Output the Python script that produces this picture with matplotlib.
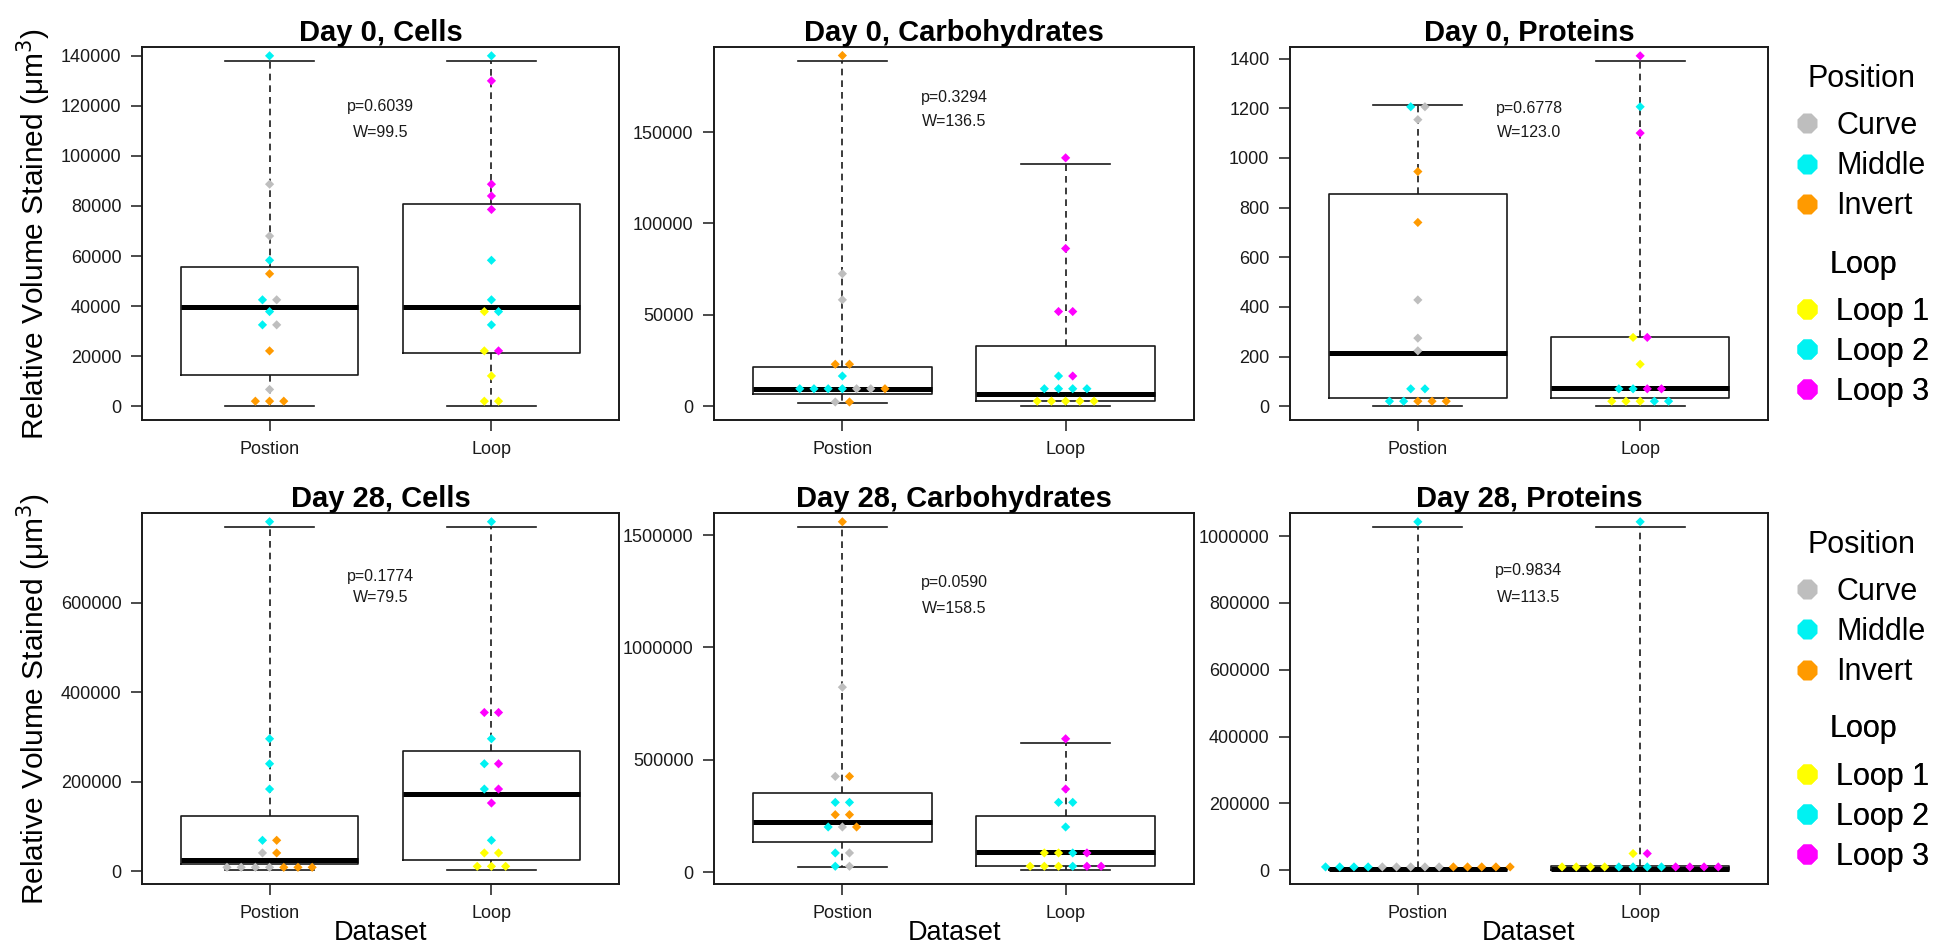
from itertools import groupby

import matplotlib.pyplot as plt
from matplotlib.lines import Line2D
from matplotlib.ticker import FormatStrFormatter

plt.rcParams["font.family"] = ["Liberation Sans", "DejaVu Sans"]

GROUPS = ["Postion", "Loop"]
POSITION_CATS = ["Curve", "Middle", "Invert"]
LOOP_CATS = ["Loop 1", "Loop 2", "Loop 3"]
# order of the colours inside one beeswarm row, left to right
POSITION_ROW_ORDER = ["Middle", "Curve", "Invert"]
LOOP_ROW_ORDER = ["Loop 1", "Loop 2", "Loop 3"]
COLORS = {
    "Curve": "#bebebe", "Middle": "#00f2f2", "Invert": "#ff9a00",
    "Loop 1": "#ffff00", "Loop 2": "#00f2f2", "Loop 3": "#ff00ff",
}

# ---- Day 0, Cells
d0_cells_position = {
    "Curve": [88700, 68000, 42500, 32500, 6700],
    "Middle": [140000, 58300, 42500, 37800, 32500],
    "Invert": [52900, 22100, 2000, 2000, 2000],
}
d0_cells_loop = {
    "Loop 1": [37800, 22100, 12100, 2000, 2000],
    "Loop 2": [140000, 58300, 42500, 37800, 32500],
    "Loop 3": [130000, 88700, 84000, 78600, 22100],
}
# whislo, q1, median, q3, whishi for Postion and Loop
d0_cells_box = [[0, 12500, 39500, 55600, 138000], [0, 21200, 39500, 80800, 138000]]
d0_cells_ticks = [0, 20000, 40000, 60000, 80000, 100000, 120000, 140000]

# ---- Day 0, Carbohydrates
d0_carb_position = {
    "Curve": [72500, 58200, 9550, 9550, 2300],
    "Middle": [16500, 9550, 9550, 9550, 9550],
    "Invert": [191900, 22950, 22950, 9550, 2300],
}
d0_carb_loop = {
    "Loop 1": [2750, 2750, 2750, 2750, 2750],
    "Loop 2": [16500, 9550, 9550, 9550, 9550],
    "Loop 3": [135900, 86300, 51800, 51800, 16500],
}
d0_carb_box = [[1800, 6400, 9550, 21700, 189000], [0, 2750, 6400, 33000, 132600]]
d0_carb_ticks = [0, 50000, 100000, 150000]

# ---- Day 0, Proteins
d0_prot_position = {
    "Curve": [1206, 1154, 428, 274, 223],
    "Middle": [1206, 70, 70, 20, 20],
    "Invert": [945, 740, 20, 20, 20],
}
d0_prot_loop = {
    "Loop 1": [277, 169, 20, 20, 20],
    "Loop 2": [1206, 70, 70, 20, 20],
    "Loop 3": [1411, 1100, 277, 70, 70],
}
d0_prot_box = [[0, 31, 213, 855, 1214], [0, 31, 72, 277, 1391]]
d0_prot_ticks = [0, 200, 400, 600, 800, 1000, 1200, 1400]

# ---- Day 28, Cells
d28_cells_position = {
    "Curve": [40900, 8800, 8800, 8800, 8800],
    "Middle": [780700, 295900, 240100, 183600, 69100],
    "Invert": [69100, 40900, 8800, 8800, 8800],
}
d28_cells_loop = {
    "Loop 1": [40900, 40900, 11000, 11000, 11000],
    "Loop 2": [780700, 295900, 240100, 183600, 69100],
    "Loop 3": [354600, 354600, 240100, 183600, 152400],
}
d28_cells_box = [[2200, 16400, 26000, 122700, 769500], [2200, 24500, 172500, 269100, 769500]]
d28_cells_ticks = [0, 200000, 400000, 600000]

# ---- Day 28, Carbohydrates
d28_carb_position = {
    "Curve": [823200, 426400, 201400, 85900, 26700],
    "Middle": [310900, 310900, 201400, 85900, 26700],
    "Invert": [1559000, 426400, 256100, 256100, 201400],
}
d28_carb_loop = {
    "Loop 1": [85900, 85900, 26700, 26700, 26700],
    "Loop 2": [310900, 310900, 201400, 85900, 26700],
    "Loop 3": [593700, 370200, 85900, 26700, 26700],
}
d28_carb_box = [[23700, 134700, 223600, 352400, 1536900], [8900, 29600, 88800, 248700, 574500]]
d28_carb_ticks = [0, 500000, 1000000, 1500000]

# ---- Day 28, Proteins
d28_prot_position = {
    "Curve": [10000, 10000, 10000, 10000, 10000],
    "Middle": [1042800, 10000, 10000, 10000, 10000],
    "Invert": [10000, 10000, 10000, 10000, 10000],
}
d28_prot_loop = {
    "Loop 1": [50000, 10000, 10000, 10000, 10000],
    "Loop 2": [1042800, 10000, 10000, 10000, 10000],
    "Loop 3": [50000, 10000, 10000, 10000, 10000],
}
d28_prot_box = [[0, 1000, 3000, 8000, 1028000], [0, 500, 2500, 14000, 1028000]]
d28_prot_ticks = [0, 200000, 400000, 600000, 800000, 1000000]

p_values = ["0.6039", "0.3294", "0.6778", "0.1774", "0.0590", "0.9834"]
w_values = ["99.5", "136.5", "123.0", "79.5", "158.5", "113.5"]

panels = [
    ("Day 0, Cells", d0_cells_position, d0_cells_loop, d0_cells_box, d0_cells_ticks),
    ("Day 0, Carbohydrates", d0_carb_position, d0_carb_loop, d0_carb_box, d0_carb_ticks),
    ("Day 0, Proteins", d0_prot_position, d0_prot_loop, d0_prot_box, d0_prot_ticks),
    ("Day 28, Cells", d28_cells_position, d28_cells_loop, d28_cells_box, d28_cells_ticks),
    ("Day 28, Carbohydrates", d28_carb_position, d28_carb_loop, d28_carb_box, d28_carb_ticks),
    ("Day 28, Proteins", d28_prot_position, d28_prot_loop, d28_prot_box, d28_prot_ticks),
]

# layout (pixels of the 1941x952 figure)
FIG_W, FIG_H = 1941, 952
COL_LEFT = [142, 714, 1290]
COL_RIGHT = [619, 1194, 1768]
ROW_TOP = [47, 513]
ROW_BOTTOM = [420, 884]
TITLE_PAD = [1.8, 4]
P_Y = [0.84, 0.865, 0.835, 0.83, 0.813, 0.845]
W_Y = [0.77, 0.80, 0.77, 0.773, 0.743, 0.771]
XLIM = (0.425, 2.575)
SWARM_STEP_PX = 14.2
INK = "#1a1a1a"


def draw_swarm(ax, x_center, data, row_order, dx):
    pairs = sorted((v, row_order.index(c), c) for c, vals in data.items() for v in vals)
    xs, ys, cs = [], [], []
    for value, grp in groupby(pairs, key=lambda p: p[0]):
        grp = list(grp)
        n = len(grp)
        for i, (_, _, cat) in enumerate(grp):
            xs.append(x_center + (i - (n - 1) / 2) * dx)
            ys.append(value)
            cs.append(COLORS[cat])
    ax.scatter(xs, ys, c=cs, marker="D", s=22, linewidths=0, zorder=3)


def add_legend(ax, cats, title, y_anchor):
    handles = [Line2D([], [], ls="none", marker="8", ms=15, mfc=COLORS[c], mec="none", label=c)
               for c in cats]
    leg = ax.legend(handles=handles, title=title, loc="upper left",
                    bbox_to_anchor=(1.06, y_anchor), frameon=False,
                    fontsize=22, title_fontsize=22, borderpad=0, borderaxespad=0,
                    handlelength=0.7, handletextpad=0.6, labelspacing=0.33)
    # a bit more room between the legend title and its entries
    leg._legend_box.sep = 12.5
    ax.add_artist(leg)
    return leg


fig = plt.figure(figsize=(FIG_W / 100, FIG_H / 100), dpi=100)

for k, (title, pos_data, loop_data, box, ticks) in enumerate(panels):
    row, col = divmod(k, 3)
    left, right = COL_LEFT[col], COL_RIGHT[col]
    top, bottom = ROW_TOP[row], ROW_BOTTOM[row]
    ax = fig.add_axes([left / FIG_W, 1 - bottom / FIG_H, (right - left) / FIG_W, (bottom - top) / FIG_H])

    stats = [
        {"whislo": b[0], "q1": b[1], "med": b[2], "q3": b[3], "whishi": b[4], "fliers": []}
        for b in box
    ]
    ax.bxp(
        stats, positions=[1, 2], widths=0.8, showfliers=False,
        boxprops=dict(color=INK, linewidth=1.2),
        medianprops=dict(color="black", linewidth=3.6, solid_capstyle="butt"),
        whiskerprops=dict(color=INK, linewidth=1.2, linestyle=(0, (4, 3))),
        capprops=dict(color=INK, linewidth=1.2),
    )

    dx = SWARM_STEP_PX / (right - left) * (XLIM[1] - XLIM[0])
    draw_swarm(ax, 1, pos_data, POSITION_ROW_ORDER, dx)
    draw_swarm(ax, 2, loop_data, LOOP_ROW_ORDER, dx)

    lo = min(b[0] for b in box)
    hi = max(b[4] for b in box)
    pad = 0.04 * (hi - lo)
    ax.set_ylim(lo - pad, hi + pad)
    ax.set_xlim(*XLIM)
    ax.set_yticks(ticks)
    ax.yaxis.set_major_formatter(FormatStrFormatter("%d"))
    ax.set_xticks([1, 2])
    ax.set_xticklabels(GROUPS)
    ax.tick_params(axis="both", labelsize=13, length=7.8, width=1.1, pad=7,
                   color=INK, labelcolor=INK)
    for spine in ax.spines.values():
        spine.set_linewidth(1.4)
        spine.set_color(INK)

    ax.set_title(title, fontsize=21, fontweight="bold", pad=TITLE_PAD[row])

    tr = ax.get_xaxis_transform()
    ax.text(1.5, P_Y[k], f"p={p_values[k]}", transform=tr, ha="center", va="center",
            fontsize=11.5, color=INK)
    ax.text(1.5, W_Y[k], f"W={w_values[k]}", transform=tr, ha="center", va="center",
            fontsize=11.5, color=INK)

    if col == 0:
        ax.set_ylabel("Relative Volume Stained (\u03bcm$^3$)", fontsize=21.5, va="center")
        ax.yaxis.set_label_coords(-0.226, 0.5)
    if row == 1:
        ax.set_xlabel("Dataset", fontsize=19.5, va="center")
        ax.xaxis.set_label_coords(0.5, -0.132)

    if col == 2:
        add_legend(ax, POSITION_CATS, "Position", 0.955)
        add_legend(ax, LOOP_CATS, "Loop", 0.457)

fig.savefig("out.png", dpi=100, facecolor="white")
